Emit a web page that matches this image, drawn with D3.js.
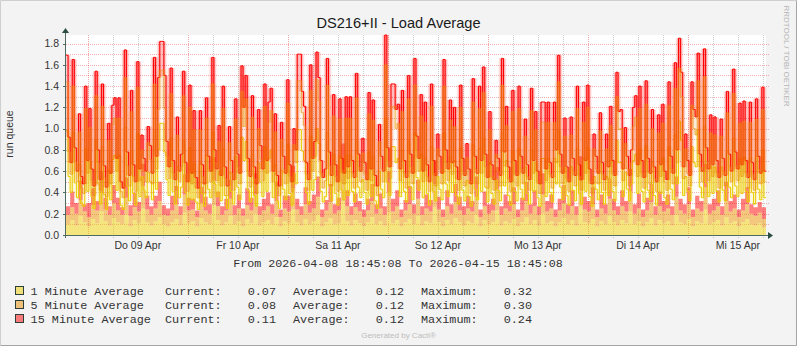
<!DOCTYPE html>
<html>
<head>
<meta charset="utf-8">
<title>DS216+II - Load Average</title>
<script src="https://cdn.jsdelivr.net/npm/d3@7/dist/d3.min.js"></script>
<style>
  html, body { margin: 0; padding: 0; background: #f3f3f3; }
  svg { display: block; }
</style>
</head>
<body>
<svg id="chart" width="797" height="346"></svg>
<script>
// ---------------------------------------------------------------------------
// Data
// ---------------------------------------------------------------------------
const chartTitle = "DS216+II - Load Average";
const yAxisTitle = "run queue";
const periodText = "From 2026-04-08 18:45:08 To 2026-04-15 18:45:08";
const seriesNames = ["1 Minute Average", "5 Minute Average", "15 Minute Average"];
const seriesColors = ["#EACC00", "#EA8F00", "#FF0000"];
const dayLabels = ["Do 09 Apr", "Fr 10 Apr", "Sa 11 Apr", "So 12 Apr", "Mo 13 Apr", "Di 14 Apr", "Mi 15 Apr"];
const yTickValues = [0, 0.2, 0.4, 0.6, 0.8, 1.0, 1.2, 1.4, 1.6, 1.8];
const legendCurrent = [0.07, 0.08, 0.11];
const legendAverage = [0.12, 0.12, 0.12];
const legendMaximum = [0.32, 0.30, 0.24];
const startTime = new Date(Date.UTC(2026, 3, 8, 18, 45, 8));
const endTime = new Date(Date.UTC(2026, 3, 15, 18, 45, 8));

// half-hourly peak load per series (stacked when drawn)
const peak1 = [
  .98,.55,.40,.96,.49,.35,.66,.30,.27,.81,.41,.69,.36,.25,.89,.48,.29,.83,.38,.24,.61,.33,.71,.75,
  .42,.75,.28,.24,1.01,.46,.32,.79,.39,.28,.95,.36,.55,.42,.35,.59,.50,.33,.97,.43,.80,1.05,1.05,.78,
  .52,.37,.91,.41,.29,.64,.35,.45,.89,.40,.28,.82,.33,.67,.31,.24,.67,.39,.27,.75,.43,.35,.97,.48,
  .36,.60,.32,.81,.37,.25,.59,.41,.29,.74,.45,.33,.92,.70,.88,.42,.31,.76,.37,.27,.68,.50,.36,.83,
  .41,.72,.80,.35,.66,.32,.25,.61,.43,.33,.85,.39,.28,.58,.48,.99,.99,.79,.70,.40,.29,.93,.42,.52,
  1.00,.86,.41,.31,.36,.96,.46,.32,.76,.39,.28,.74,.42,.33,.75,.37,.75,.41,.31,.88,.45,.35,.52,.40,
  .29,.78,.36,.74,.32,.25,.60,.43,.35,1.10,.49,.37,.83,.83,.68,.72,.36,.79,.41,.31,.88,.45,.33,.96,
  .54,.42,.76,.35,.72,.39,.28,.83,.41,.32,.55,.43,.33,.96,.48,.36,.74,.40,.70,.37,.29,.82,.42,.32,
  .51,.36,.27,.85,.43,.33,.81,.41,.91,.45,.31,.68,.39,.29,.52,.42,.32,.96,.46,.70,.37,.28,.79,.41,
  .32,.81,.43,.33,.64,.39,.29,.80,.41,.68,.35,.27,.72,.72,.36,.72,.40,.31,.72,.48,.98,.45,.33,.63,
  .37,.28,.64,.42,.32,.81,.39,.29,.72,.41,.82,.36,.27,.55,.43,.33,.67,.40,.29,.55,.37,.70,.41,.32,
  .89,.68,.68,.36,.59,.43,.32,.48,.70,.76,.39,.81,.41,.31,.84,.42,.33,.68,.37,.28,.65,.39,.72,.35,
  .29,.83,.43,.33,.94,.48,1.07,.89,.37,.55,.41,.32,.83,.68,.64,.99,.45,.35,1.02,.49,.36,.65,.39,.64,
  .41,.31,.64,.42,.32,.79,.45,.35,.91,.46,.36,.72,.39,.73,.41,.31,.72,.40,.29,.74,.43,.33,.80,.35
];
const peak5 = [
  .46,.23,.17,.44,.20,.15,.31,.14,.12,.38,.17,.32,.15,.12,.42,.20,.13,.38,.16,.12,.28,.15,.33,.35,
  .18,.35,.13,.11,.47,.19,.14,.37,.16,.13,.44,.15,.25,.18,.15,.28,.21,.15,.45,.19,.38,.50,.50,.41,
  .22,.16,.42,.17,.13,.30,.15,.19,.42,.17,.13,.38,.15,.32,.13,.11,.32,.16,.12,.35,.19,.15,.45,.20,
  .15,.28,.14,.38,.16,.12,.28,.17,.13,.35,.19,.15,.43,.32,.40,.18,.14,.35,.16,.12,.32,.21,.15,.38,
  .17,.34,.37,.15,.31,.14,.12,.29,.19,.15,.39,.16,.13,.27,.20,.46,.46,.36,.33,.17,.13,.43,.18,.22,
  .46,.40,.17,.13,.15,.45,.19,.14,.36,.16,.13,.35,.18,.15,.35,.16,.35,.17,.13,.41,.19,.15,.25,.17,
  .13,.36,.15,.34,.14,.12,.28,.19,.15,.50,.20,.16,.38,.38,.32,.33,.15,.37,.17,.13,.40,.19,.15,.45,
  .25,.18,.36,.15,.34,.16,.13,.38,.17,.14,.26,.19,.15,.44,.20,.15,.34,.17,.32,.16,.13,.38,.18,.14,
  .22,.15,.12,.40,.19,.15,.38,.17,.43,.19,.13,.31,.16,.13,.24,.18,.14,.45,.19,.33,.16,.13,.37,.17,
  .14,.38,.19,.15,.29,.16,.13,.37,.17,.31,.15,.12,.34,.34,.15,.34,.17,.13,.34,.20,.46,.19,.15,.30,
  .16,.13,.30,.18,.14,.38,.16,.13,.34,.17,.38,.15,.12,.26,.19,.15,.31,.17,.13,.26,.16,.33,.17,.14,
  .41,.31,.32,.15,.27,.19,.14,.20,.32,.35,.16,.38,.17,.13,.39,.18,.15,.32,.16,.13,.31,.16,.33,.15,
  .13,.39,.19,.15,.44,.20,.50,.41,.16,.26,.17,.14,.39,.32,.30,.46,.19,.15,.47,.20,.15,.31,.16,.30,
  .17,.13,.29,.18,.14,.36,.19,.15,.42,.19,.15,.33,.16,.34,.17,.13,.34,.17,.13,.35,.19,.15,.38,.15
];
const peak15 = [
  .25,.14,.11,.25,.13,.10,.17,.11,.09,.21,.12,.18,.11,.09,.23,.12,.10,.21,.11,.09,.16,.10,.18,.19,
  .12,.19,.09,.09,.26,.13,.10,.20,.11,.09,.24,.11,.14,.12,.10,.15,.13,.10,.25,.12,.30,.27,.27,.31,
  .14,.11,.24,.12,.10,.17,.10,.12,.23,.11,.09,.21,.10,.18,.10,.09,.18,.11,.09,.19,.12,.10,.25,.12,
  .11,.15,.10,.21,.11,.09,.15,.12,.10,.19,.12,.10,.24,.18,.22,.12,.10,.20,.11,.09,.18,.13,.11,.21,
  .12,.19,.21,.10,.17,.10,.09,.16,.12,.10,.22,.11,.09,.15,.12,.25,.25,.20,.18,.11,.10,.24,.12,.14,
  .26,.22,.12,.10,.11,.25,.13,.10,.20,.11,.09,.19,.12,.10,.20,.11,.20,.12,.10,.23,.12,.10,.14,.11,
  .10,.20,.11,.19,.10,.09,.16,.12,.10,.28,.13,.11,.21,.21,.18,.18,.11,.20,.12,.10,.22,.12,.10,.25,
  .14,.12,.20,.10,.19,.11,.09,.21,.12,.10,.14,.12,.10,.25,.12,.11,.19,.11,.18,.11,.10,.21,.12,.10,
  .13,.11,.09,.22,.12,.10,.21,.12,.24,.12,.10,.17,.11,.10,.13,.12,.10,.25,.13,.18,.11,.09,.20,.12,
  .10,.21,.12,.10,.16,.11,.10,.21,.12,.17,.10,.09,.19,.19,.11,.19,.11,.10,.19,.12,.25,.12,.10,.17,
  .11,.09,.17,.12,.10,.21,.11,.10,.19,.12,.21,.11,.09,.14,.12,.10,.17,.11,.10,.14,.11,.18,.12,.10,
  .23,.17,.18,.11,.15,.12,.10,.12,.18,.20,.11,.21,.12,.10,.22,.12,.10,.18,.11,.09,.17,.11,.18,.10,
  .10,.22,.12,.10,.24,.12,.28,.23,.11,.14,.12,.10,.22,.18,.17,.26,.12,.10,.26,.13,.11,.17,.11,.17,
  .12,.10,.16,.12,.10,.20,.12,.10,.23,.13,.11,.19,.11,.19,.12,.10,.19,.11,.10,.19,.12,.10,.21,.10
];

// hourly average load per series (stacked areas)
const avg1 = [
  .10,.14,.09,.18,.12,.08,.15,.11,.22,.13,.09,.16,.12,.10,.19,.08,.14,.11,.25,.12,.09,.13,.17,.10,
  .08,.12,.15,.09,.21,.11,.13,.08,.16,.12,.10,.28,.14,.09,.12,.18,.10,.13,.08,.15,.11,.20,.09,.12,
  .14,.10,.17,.08,.13,.11,.24,.12,.09,.15,.10,.13,.19,.08,.12,.16,.10,.11,.32,.13,.09,.14,.11,.08,
  .12,.17,.10,.13,.09,.21,.11,.14,.08,.12,.15,.10,.18,.09,.13,.11,.26,.12,.08,.14,.10,.16,.12,.09,
  .13,.11,.19,.08,.14,.10,.12,.23,.09,.13,.11,.15,.08,.12,.17,.10,.14,.09,.20,.11,.13,.08,.12,.16,
  .10,.14,.09,.27,.12,.11,.15,.08,.13,.10,.18,.12,.09,.14,.11,.22,.10,.13,.08,.12,.16,.09,.14,.11,
  .13,.09,.19,.12,.10,.15,.08,.13,.11,.24,.10,.12,.14,.09,.17,.11,.13,.08,.12,.15,.10,.09,.11,.07
];
const avg5 = [
  .09,.12,.11,.15,.10,.09,.13,.12,.18,.11,.10,.14,.11,.09,.16,.10,.12,.11,.21,.12,.10,.12,.15,.09,
  .10,.11,.14,.10,.17,.12,.11,.09,.14,.11,.10,.23,.13,.10,.11,.16,.09,.12,.10,.13,.12,.18,.10,.11,
  .13,.10,.15,.09,.12,.11,.20,.12,.10,.14,.11,.12,.17,.09,.11,.15,.10,.12,.30,.14,.10,.12,.11,.09,
  .11,.15,.10,.12,.10,.19,.11,.13,.09,.11,.14,.10,.16,.10,.12,.11,.22,.12,.09,.13,.10,.15,.11,.10,
  .12,.11,.17,.09,.13,.10,.11,.20,.10,.12,.11,.14,.09,.11,.15,.10,.13,.10,.18,.11,.12,.09,.11,.14,
  .10,.13,.10,.24,.12,.11,.14,.09,.12,.10,.16,.11,.10,.13,.11,.19,.10,.12,.09,.11,.15,.10,.13,.11,
  .12,.10,.17,.11,.10,.14,.09,.12,.11,.21,.10,.11,.13,.10,.15,.11,.12,.09,.11,.14,.10,.09,.10,.08
];
const avg15 = [
  .08,.15,.10,.18,.07,.13,.16,.09,.20,.11,.08,.17,.12,.07,.19,.10,.14,.09,.21,.13,.08,.12,.18,.09,
  .07,.14,.17,.08,.19,.12,.10,.06,.15,.13,.09,.22,.14,.08,.11,.18,.09,.13,.07,.16,.12,.20,.08,.11,
  .13,.09,.18,.07,.12,.15,.21,.10,.08,.16,.11,.13,.19,.07,.10,.17,.09,.12,.24,.15,.08,.13,.10,.07,
  .11,.16,.09,.14,.08,.20,.12,.15,.07,.10,.17,.09,.18,.08,.13,.11,.22,.12,.07,.15,.09,.17,.13,.08,
  .12,.10,.19,.07,.14,.09,.11,.21,.08,.13,.10,.16,.07,.12,.18,.09,.15,.08,.20,.10,.13,.07,.11,.17,
  .09,.15,.08,.23,.12,.10,.16,.07,.13,.09,.19,.11,.08,.15,.10,.21,.09,.14,.07,.12,.17,.08,.14,.10,
  .13,.08,.19,.11,.09,.16,.07,.12,.10,.22,.09,.11,.15,.08,.18,.10,.13,.07,.11,.16,.09,.08,.10,.11
];

// ---------------------------------------------------------------------------
// Layout
// ---------------------------------------------------------------------------
const W = 797, H = 346;
const plotL = 66, plotR = 766, plotT = 35, plotB = 235;
const sans = '"Liberation Sans", Arial, Helvetica, sans-serif';
const mono = '"Liberation Mono", "Courier New", monospace';
const keys = ["m1", "m5", "m15"];

// One row per consolidation step; a closing row at the end time lets the
// step curves run to the right edge.
function buildRows(a, b, c) {
  const n = a.length;
  const step = (endTime - startTime) / n;
  const out = a.map((v, i) => ({ t: new Date(+startTime + i * step), m1: v, m5: b[i], m15: c[i] }));
  out.push({ t: endTime, m1: a[n - 1], m5: b[n - 1], m15: c[n - 1] });
  return out;
}

const stack = d3.stack().keys(keys);
const peakStack = stack(buildRows(peak1, peak5, peak15));
const avgStack = stack(buildRows(avg1, avg5, avg15));

const x = d3.scaleUtc().domain([startTime, endTime]).range([plotL, plotR]);
const yMax = d3.max(peakStack[2], d => d[1]);
const y = d3.scaleLinear().domain([0, yMax]).range([plotB, plotT]);

const svg = d3.select("#chart");

// background and bevelled frame
svg.append("rect").attr("width", W).attr("height", H).attr("fill", "#f3f3f3");
svg.append("path").attr("d", `M0.5,${H - 0.5}V0.5H${W - 0.5}`)
  .attr("fill", "none").attr("stroke", "#cfcfcf");
svg.append("path").attr("d", `M0.5,${H - 0.5}H${W - 0.5}V0.5`)
  .attr("fill", "none").attr("stroke", "#a4a4a4");

// plotting canvas
svg.append("rect")
  .attr("x", plotL).attr("y", plotT)
  .attr("width", plotR - plotL).attr("height", plotB - plotT)
  .attr("fill", "#ffffff");

// grid
const grid = svg.append("g")
  .attr("shape-rendering", "crispEdges")
  .attr("stroke-dasharray", "1,1");

const yGrid = d3.range(1, Math.floor(yMax * 10 + 1e-9) + 1).map(k => k / 10);
grid.selectAll("line.hgrid").data(yGrid).join("line")
  .attr("class", "hgrid")
  .attr("x1", plotL).attr("x2", plotR + 3)
  .attr("y1", d => Math.round(y(d)) + 0.5).attr("y2", d => Math.round(y(d)) + 0.5)
  .attr("stroke", "#de5050").attr("stroke-opacity", 0.45);

const xGrid = d3.utcHour.every(6).range(startTime, endTime);
grid.selectAll("line.vgrid").data(xGrid).join("line")
  .attr("class", "vgrid")
  .attr("x1", d => Math.round(x(d)) + 0.5).attr("x2", d => Math.round(x(d)) + 0.5)
  .attr("y1", plotT).attr("y2", plotB + 3)
  .attr("stroke", d => d.getUTCHours() === 0 ? "#de5050" : "#8f8f8f")
  .attr("stroke-opacity", d => d.getUTCHours() === 0 ? 0.5 : 0.45);

// stacked average areas
const area = d3.area()
  .curve(d3.curveStepAfter)
  .x(d => x(d.data.t))
  .y0(d => y(d[0]))
  .y1(d => y(d[1]));

svg.append("g").selectAll("path").data(avgStack).join("path")
  .attr("d", area)
  .attr("fill", (d, i) => seriesColors[i])
  .attr("fill-opacity", 0.5);

// stacked peak lines, each with a soft horizontal glow on its risers
const defs = svg.append("defs");
defs.append("filter")
  .attr("id", "riserGlow")
  .attr("x", "-3%").attr("y", "-3%").attr("width", "106%").attr("height", "106%")
  .append("feGaussianBlur").attr("stdDeviation", "1.2 0");

const line = d3.line()
  .curve(d3.curveStepAfter)
  .x(d => x(d.data.t))
  .y(d => y(d[1]));

function riserPath(layer) {
  const p = d3.path();
  for (let i = 1; i < layer.length; i++) {
    const xi = x(layer[i].data.t);
    p.moveTo(xi, y(layer[i - 1][1]));
    p.lineTo(xi, y(layer[i][1]));
  }
  return p.toString();
}

// yellow first, then red; the orange line goes over the red one half-transparent
const lines = svg.append("g").attr("fill", "none");
const drawOrder = [0, 2, 1];
const glowOpacity = [0.25, 0.3, 0.5];
const lineOpacity = [1, 0.55, 1];
drawOrder.forEach(i => {
  lines.append("path")
    .attr("d", riserPath(peakStack[i]))
    .attr("stroke", seriesColors[i])
    .attr("stroke-width", 2.5)
    .attr("stroke-opacity", glowOpacity[i])
    .attr("filter", "url(#riserGlow)");
  lines.append("path")
    .attr("d", line(peakStack[i]))
    .attr("stroke", seriesColors[i])
    .attr("stroke-opacity", lineOpacity[i])
    .attr("stroke-width", 1);
});

// axes
const axisColor = "#4f6b61";
const arrowColor = "#2c4d43";
const axes = svg.append("g").attr("shape-rendering", "crispEdges");
axes.append("line")
  .attr("x1", plotL - 3).attr("x2", plotR + 4)
  .attr("y1", plotB + 0.5).attr("y2", plotB + 0.5)
  .attr("stroke", axisColor);
axes.append("line")
  .attr("x1", plotL - 0.5).attr("x2", plotL - 0.5)
  .attr("y1", plotB + 3).attr("y2", plotT - 4)
  .attr("stroke", axisColor);
axes.selectAll("line.ytick").data(yTickValues).join("line")
  .attr("class", "ytick")
  .attr("x1", plotL - 3).attr("x2", plotL)
  .attr("y1", d => Math.round(y(d)) + 0.5).attr("y2", d => Math.round(y(d)) + 0.5)
  .attr("stroke", axisColor);

svg.append("path")
  .attr("d", `M${plotR + 2},${plotB - 3}L${plotR + 7},${plotB + 0.5}L${plotR + 2},${plotB + 4}Z`)
  .attr("fill", arrowColor);
svg.append("path")
  .attr("d", `M${plotL - 4},${plotT - 2}L${plotL - 0.5},${plotT - 7}L${plotL + 3},${plotT - 2}Z`)
  .attr("fill", arrowColor);

// tick labels
const fmt1 = d3.format(".1f");
svg.append("g").selectAll("text").data(yTickValues).join("text")
  .attr("x", plotL - 7)
  .attr("y", d => y(d) + 3.8)
  .attr("text-anchor", "end")
  .attr("font-family", sans).attr("font-size", "10.5px")
  .attr("fill", "#333")
  .text(d => fmt1(d));

const middays = d3.utcDay.range(startTime, endTime).map(d => d3.utcHour.offset(d, 12));
svg.append("g").selectAll("text").data(middays).join("text")
  .attr("x", d => x(d))
  .attr("y", plotB + 14)
  .attr("text-anchor", "middle")
  .attr("font-family", sans).attr("font-size", "10.5px")
  .attr("fill", "#333")
  .text((d, i) => dayLabels[i]);

// titles
svg.append("text")
  .attr("x", 398.5).attr("y", 28)
  .attr("text-anchor", "middle")
  .attr("font-family", sans).attr("font-size", "14.6px")
  .attr("fill", "#1a1a1a")
  .text(chartTitle);

svg.append("text")
  .attr("transform", "translate(13,134) rotate(-90)")
  .attr("text-anchor", "middle")
  .attr("font-family", sans).attr("font-size", "10.5px")
  .attr("fill", "#333")
  .text(yAxisTitle);

svg.append("text")
  .attr("transform", "translate(784,56) rotate(90)")
  .attr("text-anchor", "middle")
  .attr("font-family", sans).attr("font-size", "8px")
  .attr("fill", "#b4b4b4")
  .text("RRDTOOL / TOBI OETIKER");

svg.append("text")
  .attr("x", 398).attr("y", 266.5)
  .attr("text-anchor", "middle")
  .attr("font-family", mono).attr("font-size", "11.7px")
  .attr("fill", "#333")
  .text(periodText);

// legend
const fmt2 = d3.format(".2f");
const legend = svg.append("g")
  .attr("font-family", mono).attr("font-size", "11.8px")
  .attr("fill", "#333");
seriesNames.forEach((name, i) => {
  const cy = 291 + i * 14;
  const row = legend.append("g");
  row.append("rect")
    .attr("x", 15.5).attr("y", cy - 4.5)
    .attr("width", 8).attr("height", 8)
    .attr("fill", d3.interpolateRgb("#f3f3f3", seriesColors[i])(0.5))
    .attr("stroke", "#2c3e36");
  const base = cy + 4;
  row.append("text").attr("x", 30.6).attr("y", base).text(name);
  row.append("text").attr("x", 165).attr("y", base).text("Current:");
  row.append("text").attr("x", 276).attr("y", base).attr("text-anchor", "end").text(fmt2(legendCurrent[i]));
  row.append("text").attr("x", 293).attr("y", base).text("Average:");
  row.append("text").attr("x", 404).attr("y", base).attr("text-anchor", "end").text(fmt2(legendAverage[i]));
  row.append("text").attr("x", 421).attr("y", base).text("Maximum:");
  row.append("text").attr("x", 532).attr("y", base).attr("text-anchor", "end").text(fmt2(legendMaximum[i]));
});

svg.append("text")
  .attr("x", 398.6).attr("y", 338)
  .attr("text-anchor", "middle")
  .attr("font-family", sans).attr("font-size", "8px")
  .attr("fill", "#bdbdbd")
  .text("Generated by Cacti®");
</script>
</body>
</html>
